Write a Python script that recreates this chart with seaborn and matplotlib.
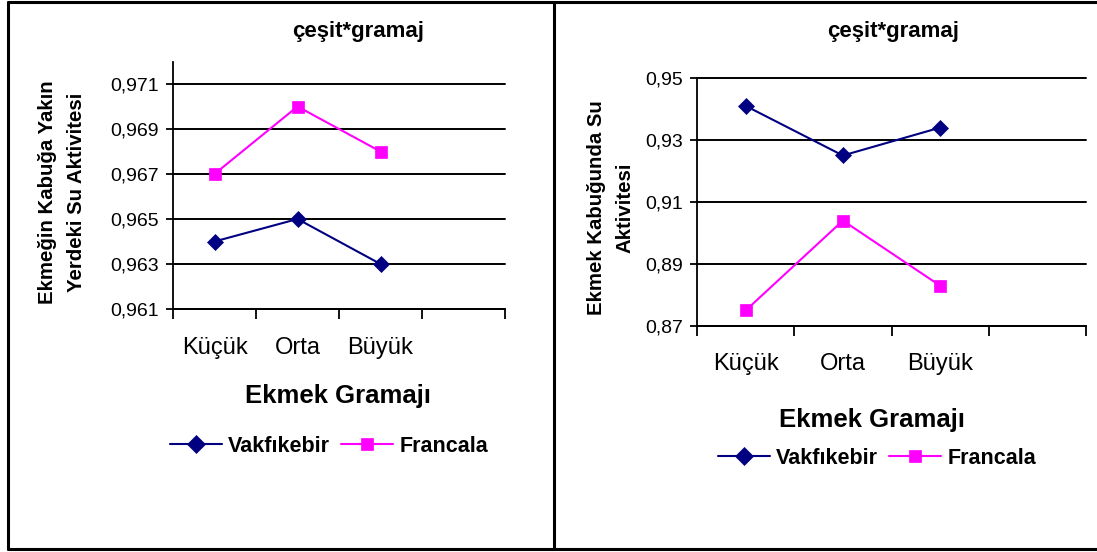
import matplotlib
matplotlib.use("Agg")
import matplotlib.pyplot as plt
from matplotlib.lines import Line2D
import pandas as pd
import seaborn as sns

# ---- data -------------------------------------------------------------
categories = ["Küçük", "Orta", "Büyük"]
series_names = ["Vakfıkebir", "Francala"]

crumb_vakfikebir = [0.964, 0.965, 0.963]
crumb_francala = [0.967, 0.970, 0.968]

crust_vakfikebir = [0.941, 0.925, 0.934]
crust_francala = [0.875, 0.904, 0.883]

crumb_yticks = [0.961, 0.963, 0.965, 0.967, 0.969, 0.971]
crumb_yticklabels = ["0,961", "0,963", "0,965", "0,967", "0,969", "0,971"]
crust_yticks = [0.87, 0.89, 0.91, 0.93, 0.95]
crust_yticklabels = ["0,87", "0,89", "0,91", "0,93", "0,95"]

title_text = "çeşit*gramaj"
xlabel_text = "Ekmek Gramajı"
crumb_ylabel = "Ekmeğin Kabuğa Yakın\nYerdeki Su Aktivitesi"
crust_ylabel = "Ekmek Kabuğunda Su\nAktivitesi"

# ---- style ------------------------------------------------------------
sns.set_style("white")
plt.rcParams["font.family"] = ["Liberation Sans", "DejaVu Sans"]
plt.rcParams["text.color"] = "black"
plt.rcParams["axes.labelcolor"] = "black"
plt.rcParams["xtick.color"] = "black"
plt.rcParams["ytick.color"] = "black"

NAVY = "#000080"
MAGENTA = "#FF00FF"
palette = {"Vakfıkebir": NAVY, "Francala": MAGENTA}
marker_map = {"Vakfıkebir": "D", "Francala": "s"}
marker_size = {"Vakfıkebir": 8.5, "Francala": 8.0}

W, H = 1097, 552
fig = plt.figure(figsize=(W / 100, H / 100), dpi=100)


def fx(x):
    return x / W


def fy(y):
    return 1 - y / H


def make_frame(vak, fra):
    rows = []
    for name, vals in zip(series_names, [vak, fra]):
        for cat, v in zip(categories, vals):
            rows.append({"gramaj": cat, "cesit": name, "deger": v})
    return pd.DataFrame(rows)


def draw_panel(rect, vak, fra, ylim, yticks, yticklabels, ylabel, ylabel_xy,
               title_xy, xlabel_xy, legend_xy, cat_pad):
    x0, y_top, x1, y_bot = rect
    ax = fig.add_axes([fx(x0), fy(y_bot), fx(x1) - fx(x0), (y_bot - y_top) / H])
    df = make_frame(vak, fra)
    for name in series_names:
        sns.pointplot(
            data=df[df["cesit"] == name], x="gramaj", y="deger", order=categories,
            color=palette[name], markers=marker_map[name], linestyles="-",
            errorbar=None, ax=ax, markersize=marker_size[name], linewidth=1.5,
            markeredgewidth=0.5,
        )
    ax.set_xlim(-0.5, 3.5)
    ax.set_ylim(*ylim)

    # category labels centred in their slots, tick marks at slot boundaries
    ax.set_xticks(range(len(categories)))
    ax.set_xticklabels(categories, fontsize=17, color="black")
    ax.set_xticks([-0.5, 0.5, 1.5, 2.5, 3.5], minor=True)
    ax.tick_params(axis="x", which="major", length=0, pad=cat_pad)
    ax.tick_params(axis="x", which="minor", length=7, width=1.3, color="black",
                   direction="out", bottom=True)
    ax.set_yticks(yticks)
    ax.set_yticklabels(yticklabels, fontsize=14, color="black")
    ax.tick_params(axis="y", which="major", length=5, width=1.3, color="black",
                   direction="out", pad=5, left=True)
    ax.set_xlabel("")
    ax.set_ylabel("")

    ax.grid(axis="y", color="black", linewidth=1.4)
    ax.grid(axis="x", visible=False)
    for gl in ax.get_ygridlines():
        gl.set_clip_on(False)
    ax.set_axisbelow(True)
    for side in ["top", "right"]:
        ax.spines[side].set_visible(False)
    for side in ["left", "bottom"]:
        ax.spines[side].set_color("black")
        ax.spines[side].set_linewidth(1.3)

    fig.text(fx(title_xy[0]), fy(title_xy[1]), title_text, ha="center",
             va="center", fontsize=16, fontweight="bold")
    fig.text(fx(xlabel_xy[0]), fy(xlabel_xy[1]), xlabel_text, ha="center",
             va="center", fontsize=18.5, fontweight="bold")
    fig.text(fx(ylabel_xy[0]), fy(ylabel_xy[1]), ylabel, ha="center",
             va="center", rotation=90, fontsize=14.7, fontweight="bold",
             multialignment="center", linespacing=1.6)

    handles = [
        Line2D([], [], color=palette[n], marker=marker_map[n],
               markersize=marker_size[n] + 0.5, linewidth=1.5,
               markeredgewidth=0.5)
        for n in series_names
    ]
    ax.legend(handles, series_names, loc="center",
              bbox_to_anchor=(fx(legend_xy[0]), fy(legend_xy[1])),
              bbox_transform=fig.transFigure, ncol=2, frameon=False,
              prop={"weight": "bold", "size": 15.5}, handlelength=2.4,
              handletextpad=0.3, columnspacing=0.5)
    return ax


# crumb-near-crust panel
draw_panel(rect=(173, 61.5, 505, 309), vak=crumb_vakfikebir, fra=crumb_francala,
           ylim=(0.961, 0.972), yticks=crumb_yticks,
           yticklabels=crumb_yticklabels, ylabel=crumb_ylabel,
           ylabel_xy=(62, 192), title_xy=(358, 32), xlabel_xy=(338, 396),
           legend_xy=(329, 446), cat_pad=20)

# crust panel
draw_panel(rect=(697, 78, 1086, 326), vak=crust_vakfikebir, fra=crust_francala,
           ylim=(0.87, 0.95), yticks=crust_yticks,
           yticklabels=crust_yticklabels, ylabel=crust_ylabel,
           ylabel_xy=(611, 208), title_xy=(893, 31), xlabel_xy=(872, 420),
           legend_xy=(877, 458), cat_pad=19.5)

# frame around the two charts
frame_kw = dict(color="black", linewidth=2.2, transform=fig.transFigure)
fig.add_artist(Line2D([fx(8), fx(W)], [fy(1.5), fy(1.5)], **frame_kw))
fig.add_artist(Line2D([fx(8), fx(W)], [fy(549), fy(549)], **frame_kw))
fig.add_artist(Line2D([fx(8), fx(8)], [fy(1.5), fy(549)], **frame_kw))
fig.add_artist(Line2D([fx(554), fx(554)], [fy(1.5), fy(549)], **frame_kw))

fig.savefig("out.png", dpi=100, facecolor="white")
